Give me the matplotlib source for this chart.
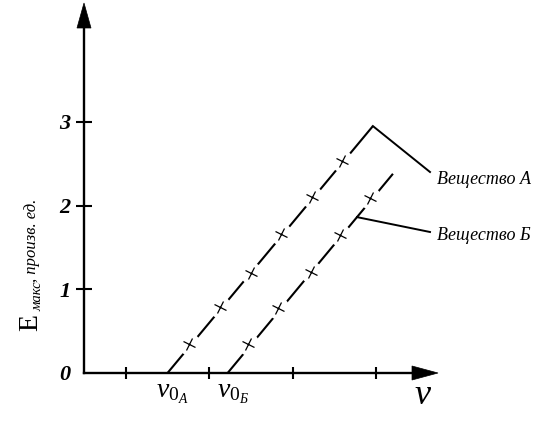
import matplotlib
matplotlib.use("Agg")
import matplotlib.pyplot as plt
import matplotlib.patches as mpatches
import matplotlib.transforms as mtransforms
from matplotlib.markers import MarkerStyle

plt.rcParams['mathtext.fontset'] = 'custom'
plt.rcParams['mathtext.rm'] = 'Liberation Serif'
plt.rcParams['mathtext.it'] = 'Liberation Serif:italic'
plt.rcParams['mathtext.bf'] = 'Liberation Serif:bold'
plt.rcParams['font.family'] = ['Liberation Serif', 'DejaVu Serif']

# --- data -----------------------------------------------------------------
# frequency ticks on the nu axis
nu_ticks = [0.5, 1.5, 2.5, 3.5]
E_ticks = [0, 1, 2, 3]
E_tick_labels = ["0", "1", "2", "3"]

# substance A: fitted line (threshold -> end) and measured points
line_A_nu = [1.00, 3.46]
line_A_E = [0.00, 2.95]
pts_A_nu = [1.26, 1.63, 2.00, 2.36, 2.73, 3.09]
pts_A_E = [0.35, 0.79, 1.20, 1.66, 2.10, 2.53]

# substance B
line_B_nu = [1.72, 3.70]
line_B_E = [0.00, 2.38]
pts_B_nu = [1.96, 2.32, 2.72, 3.07, 3.43]
pts_B_E = [0.35, 0.78, 1.21, 1.65, 2.09]

names = ["Вещество А", "Вещество Б"]
threshold_labels = [r"$\nu_{0_A}$", r"$\nu_{0_Б}$"]

# --- figure ---------------------------------------------------------------
W, H = 550, 426
fig = plt.figure(figsize=(W / 100, H / 100), dpi=100)
ax = fig.add_axes([0, 0, 1, 1])

# axis origin and scale in pixels
X0, Y0 = 84.0, 373.0
SX, SY = 83.5, 83.7
ax.set_xlim(-X0 / SX, (W - X0) / SX)
ax.set_ylim(-(H - Y0) / SY, Y0 / SY)

# pixel transform (origin top-left) for decorations
pix = mtransforms.Affine2D().scale(1 / W, -1 / H).translate(0, 1) + fig.transFigure

def px2d(px, py):
    return (px - X0) / SX, (Y0 - py) / SY

for s in ("top", "right"):
    ax.spines[s].set_visible(False)
ax.spines["left"].set_position(("data", 0))
ax.spines["bottom"].set_position(("data", 0))
ax.spines["left"].set_bounds(0, px2d(0, 27)[1])
ax.spines["bottom"].set_bounds(0, px2d(413, 0)[0])
for s in ("left", "bottom"):
    ax.spines[s].set_linewidth(1.7)
    ax.spines[s].set_color("black")

ax.set_xticks(nu_ticks)
ax.set_xticklabels([])
ax.tick_params(axis="x", direction="inout", length=8, width=1.5, color="black")
ax.set_yticks(E_ticks)
ax.set_yticklabels(E_tick_labels)
ax.tick_params(axis="y", direction="inout", length=12, width=1.5, color="black", pad=4)
ax.yaxis.get_major_ticks()[0].tick1line.set_visible(False)
for lbl in ax.get_yticklabels():
    lbl.set_fontfamily("Liberation Serif")
    lbl.set_fontstyle("italic")
    lbl.set_fontweight("bold")
    lbl.set_fontsize(16)

# axis arrow heads
ax.add_patch(mpatches.Polygon([(84, 3), (77, 28), (91, 28)], closed=True,
                              facecolor="black", edgecolor="black", lw=0.5,
                              transform=pix, clip_on=False))
ax.add_patch(mpatches.Polygon([(438, 373), (412, 366), (412, 380)], closed=True,
                              facecolor="black", edgecolor="black", lw=0.5,
                              transform=pix, clip_on=False))

# fitted lines with gaps around the measured points
cross = MarkerStyle("+", transform=mtransforms.Affine2D().rotate_deg(-22))
for lnu, lE, pnu, pE in ((line_A_nu, line_A_E, pts_A_nu, pts_A_E),
                         (line_B_nu, line_B_E, pts_B_nu, pts_B_E)):
    ax.plot(lnu, lE, color="black", lw=1.5, solid_capstyle="butt", zorder=2)
    ax.plot(pnu, pE, ls="none", marker="o", ms=16, mfc="white", mec="none", zorder=3)
    ax.plot(pnu, pE, ls="none", marker=cross, ms=10, mew=0.9, color="black", zorder=4)

# leaders and substance names
slope_B = (line_B_E[1] - line_B_E[0]) / (line_B_nu[1] - line_B_nu[0])
nu_lead_B = px2d(357, 0)[0]
lead_A_end = px2d(430, 172)
lead_B_end = px2d(430, 232)
ax.plot([line_A_nu[1], lead_A_end[0]], [line_A_E[1], lead_A_end[1]],
        color="black", lw=1.4, zorder=2)
ax.plot([nu_lead_B, lead_B_end[0]],
        [line_B_E[0] + slope_B * (nu_lead_B - line_B_nu[0]), lead_B_end[1]],
        color="black", lw=1.4, zorder=2)
ax.text(437, 180, names[0], transform=pix, ha="left", va="center",
        fontsize=13, fontstyle="italic", family="Liberation Serif")
ax.text(437, 235, names[1], transform=pix, ha="left", va="center",
        fontsize=13, fontstyle="italic", family="Liberation Serif")

# threshold frequency labels
ax.text(line_A_nu[0] + 0.06, -0.1, threshold_labels[0], ha="center", va="top", fontsize=20)
ax.text(line_B_nu[0] + 0.06, -0.1, threshold_labels[1], ha="center", va="top", fontsize=20)

# axis titles
ax.text(423, 396, r"$\nu$", transform=pix, ha="center", va="center", fontsize=26)
ax.text(37, 331, "E", transform=pix, rotation=90, rotation_mode="anchor",
        ha="left", va="baseline", fontsize=20)
ax.text(41, 311, "макс", transform=pix, rotation=90, rotation_mode="anchor",
        ha="left", va="baseline", fontsize=10.5, fontstyle="italic")
ax.text(36, 282, ", произв. ед.", transform=pix, rotation=90, rotation_mode="anchor",
        ha="left", va="baseline", fontsize=12, fontstyle="italic")

fig.savefig("out.png", dpi=100)
